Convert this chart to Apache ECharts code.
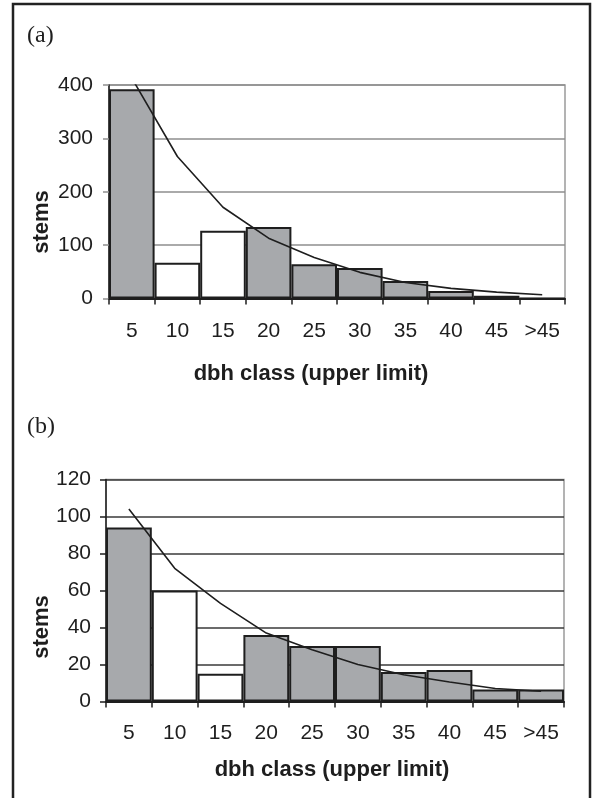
<!DOCTYPE html>
<html>
<head>
<meta charset="utf-8">
<script src="https://cdn.jsdelivr.net/npm/echarts@6/dist/echarts.min.js"></script>
<style>
html,body{margin:0;padding:0;background:#fff;}
#chart{width:596px;height:798px;}
</style>
</head>
<body>
<div id="chart"></div>
<script>
// ---- data ----
var categories = ['5', '10', '15', '20', '25', '30', '35', '40', '45', '>45'];
// panel (a)
var stemsA = [392, 67, 127, 134, 64, 57, 33, 14, 5, 0];
var fitA = [413, 266, 171, 113, 77, 49, 30, 19, 12, 7];
var openA = [false, true, true, false, false, false, false, false, false, false];
var ticksA = [0, 100, 200, 300, 400];
// panel (b)
var stemsB = [94, 60, 15, 36, 30, 30, 16, 17, 6.5, 6.5];
var fitB = [104, 72, 53, 37, 28, 20, 14.5, 10.5, 7, 5.5];
var openB = [false, true, true, false, false, false, false, false, false, false];
var ticksB = [0, 20, 40, 60, 80, 100, 120];

var xTitle = 'dbh class (upper limit)';
var yTitle = 'stems';

// ---- styling ----
var GRAY = '#a7a9ac';
var DARK = '#1e1e1e';
var FONT = '"Liberation Sans", Arial, sans-serif';

function barData(vals, open) {
  return vals.map(function (v, i) {
    return { value: v, itemStyle: { color: open[i] ? '#ffffff' : GRAY } };
  });
}

function xAxisCfg(gi, margin) {
  return {
    type: 'category', gridIndex: gi, data: categories, boundaryGap: true,
    axisLine: { lineStyle: { color: DARK, width: 2 } },
    axisTick: { show: true, interval: 0, alignWithLabel: false, length: 6, lineStyle: { color: DARK, width: 1.5 } },
    axisLabel: { interval: 0, margin: margin, color: DARK, fontSize: 21, fontFamily: FONT },
    splitLine: { show: false }
  };
}

function yAxisCfg(gi, ticks, gridColor, tickColor, margin) {
  return {
    type: 'value', gridIndex: gi, min: ticks[0], max: ticks[ticks.length - 1],
    interval: ticks[1] - ticks[0],
    axisLine: { show: true, lineStyle: { color: DARK, width: 1.5 } },
    axisTick: { show: true, length: 6, lineStyle: { color: tickColor, width: 1.5 } },
    axisLabel: { margin: margin, color: DARK, fontSize: 21, fontFamily: FONT },
    splitLine: { show: true, lineStyle: { color: gridColor, width: 1.5 } }
  };
}

var chart = echarts.init(document.getElementById('chart'), null, { renderer: 'canvas' });
chart.setOption({
  animation: false,
  backgroundColor: '#ffffff',
  grid: [
    { left: 109, top: 85, width: 456, height: 213.5, show: true, borderColor: '#9a9a9a', borderWidth: 1.5, backgroundColor: 'transparent' },
    { left: 106, top: 479.5, width: 458, height: 222, show: true, borderColor: '#9a9a9a', borderWidth: 1.5, backgroundColor: 'transparent' }
  ],
  xAxis: [xAxisCfg(0, 22), xAxisCfg(1, 21)],
  yAxis: [
    yAxisCfg(0, ticksA, '#8e8e8e', '#8e8e8e', 16),
    yAxisCfg(1, ticksB, '#3a3a3a', DARK, 15)
  ],
  series: [
    { type: 'bar', xAxisIndex: 0, yAxisIndex: 0, data: barData(stemsA, openA), barCategoryGap: 0,
      itemStyle: { borderColor: DARK, borderWidth: 2 } },
    { type: 'line', xAxisIndex: 0, yAxisIndex: 0, data: fitA, clip: true, symbol: 'none',
      lineStyle: { color: DARK, width: 1.6 }, z: 5 },
    { type: 'bar', xAxisIndex: 1, yAxisIndex: 1, data: barData(stemsB, openB), barCategoryGap: 0,
      itemStyle: { borderColor: DARK, borderWidth: 2 } },
    { type: 'line', xAxisIndex: 1, yAxisIndex: 1, data: fitB, clip: true, symbol: 'none',
      lineStyle: { color: DARK, width: 1.6 }, z: 5 }
  ],
  graphic: [
    { type: 'rect', shape: { x: 13, y: 4, width: 577, height: 820 },
      style: { fill: 'none', stroke: '#222', lineWidth: 2.5 }, z: 100 },
    { type: 'text', x: 27, y: 36, style: { text: '(a)', fill: DARK, font: '24px "Liberation Serif", "Times New Roman", serif', textAlign: 'left', textVerticalAlign: 'middle' } },
    { type: 'text', x: 27, y: 427, style: { text: '(b)', fill: DARK, font: '24px "Liberation Serif", "Times New Roman", serif', textAlign: 'left', textVerticalAlign: 'middle' } },
    { type: 'text', x: 42, y: 222, rotation: Math.PI / 2, style: { text: yTitle, fill: DARK, font: 'bold 22px ' + FONT, textAlign: 'center', textVerticalAlign: 'middle' } },
    { type: 'text', x: 42, y: 627, rotation: Math.PI / 2, style: { text: yTitle, fill: DARK, font: 'bold 22px ' + FONT, textAlign: 'center', textVerticalAlign: 'middle' } },
    { type: 'text', x: 311, y: 374, style: { text: xTitle, fill: DARK, font: 'bold 22px ' + FONT, textAlign: 'center', textVerticalAlign: 'middle' } },
    { type: 'text', x: 332, y: 770, style: { text: xTitle, fill: DARK, font: 'bold 22px ' + FONT, textAlign: 'center', textVerticalAlign: 'middle' } }
  ]
});
</script>
</body>
</html>
